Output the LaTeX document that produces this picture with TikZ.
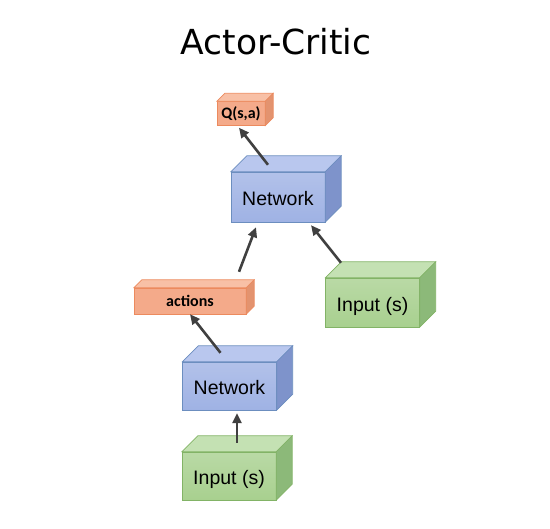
\documentclass[tikz,border=0pt]{standalone}
\usepackage{fontspec}
\setmainfont{Liberation Sans}
\newfontfamily\titlefont{DejaVu Sans}
\newfontfamily\labelfont{Carlito}
\usetikzlibrary{arrows.meta,calc}

\definecolor{netfront}{HTML}{9FB2E4}
\definecolor{nettop}{HTML}{B9C7EE}
\definecolor{netside}{HTML}{7E93CB}
\definecolor{netline}{HTML}{6C8EBF}
\definecolor{infront}{HTML}{A8D08F}
\definecolor{intop}{HTML}{C4E1B3}
\definecolor{inside}{HTML}{8CB979}
\definecolor{inline}{HTML}{82B366}
\definecolor{outfront}{HTML}{F4AA8A}
\definecolor{outtop}{HTML}{F8C0A6}
\definecolor{outside}{HTML}{E3936F}
\definecolor{outline}{HTML}{EC8A5E}
\definecolor{arrowgray}{HTML}{404040}

\tikzset{
	netbox/.style={draw=netline,top color=netfront!80!white,bottom color=netfront,
		minimum width=94pt,minimum height=48pt,inner sep=0pt,text height=18pt,text depth=0pt,
		font=\fontsize{19.5}{20}\selectfont},
	inbox/.style={draw=inline,top color=infront!80!white,bottom color=infront,
		minimum width=94pt,minimum height=48pt,inner sep=0pt,text height=18pt,text depth=0pt,
		font=\fontsize{19.5}{20}\selectfont},
	outbox/.style={draw=outline,fill=outfront,
		minimum height=24pt,inner sep=0pt,font=\labelfont\bfseries\fontsize{16}{17}\selectfont},
	arr/.style={-{Triangle[length=10pt,width=9pt]},draw=arrowgray,line width=2.6pt}
}

% top and side faces of a box
\newcommand{\boxdepth}[5]{%
	\fill[#3,draw=#5,line width=0.6pt] (#1.north west) -- ++(#2,-#2) -- ($(#1.north east)+(#2,-#2)$) -- (#1.north east) -- cycle;
	\fill[#4,draw=#5,line width=0.6pt] (#1.north east) -- ++(#2,-#2) -- ($(#1.south east)+(#2,-#2)$) -- (#1.south east) -- cycle;
}

\begin{document}
\begin{tikzpicture}[x=1pt,y=-1pt]
\useasboundingbox (0,0) rectangle (550,529);

\node[font=\titlefont\fontsize{34.5}{36}\selectfont] (title) at (276,42) {Actor-Critic};

\node[outbox,minimum width=48pt] (qval) at (241,113.5) {Q(s,a)};
\boxdepth{qval}{8}{outtop}{outside}{outline}
\node[netbox,minimum height=50pt] (critic) at (278,197) {Network};
\boxdepth{critic}{16}{nettop}{netside}{netline}
\node[outbox,minimum width=112pt,minimum height=26pt] (actions) at (190,301) {actions};
\boxdepth{actions}{8}{outtop}{outside}{outline}
\node[inbox,minimum height=49pt] (state) at (372.5,302.5) {Input (s)};
\boxdepth{state}{16}{intop}{inside}{inline}
\node[netbox] (actor) at (229.5,386) {Network};
\boxdepth{actor}{16}{nettop}{netside}{netline}
\node[inbox] (input) at (229,476) {Input (s)};
\boxdepth{input}{16}{intop}{inside}{inline}

% connectors
\draw[arr] ($(input.north)+(8,-9)$) -- ($(actor.south)+(7.5,3)$);
\draw[arr] ($(actor.north)+(-9,-9)$) -- (actions.south);
\draw[arr] ($(actions.north)+(49,-16)$) -- ($(critic.south)+(-22,5)$);
\draw[arr] ($(state.north)+(-31.5,-15)$) -- ($(critic.south)+(33,3)$);
\draw[arr] ($(critic.north)+(-10,-7)$) -- ($(qval.south)+(-2,2)$);
\end{tikzpicture}
\end{document}
